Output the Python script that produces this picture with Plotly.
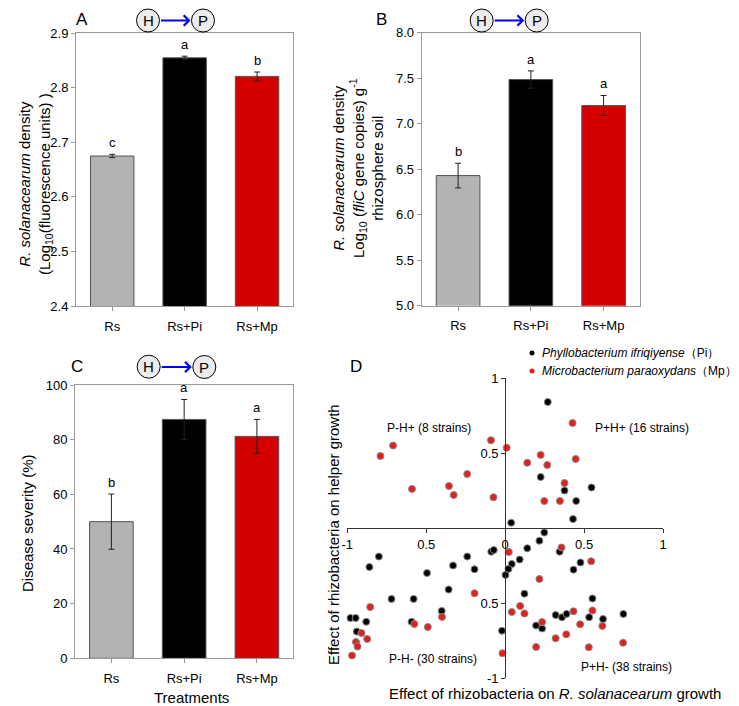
import plotly.graph_objects as go

# the page body adds an 8 px margin, so the figure is drawn 8 px in from the corner
OFF = 8
W, H = 739 - OFF, 706 - OFF

# ---- bar panels data ----
cats = ["Rs", "Rs+Pi", "Rs+Mp"]
bar_colors = ["#b3b3b3", "#000000", "#d40000"]

a_mean = [2.675, 2.855, 2.821]
a_err = [0.003, 0.003, 0.008]
a_sig = ["c", "a", "b"]

b_mean = [6.43, 7.485, 7.20]
b_err = [0.135, 0.095, 0.11]
b_sig = ["b", "a", "a"]

c_mean = [50.0, 87.4, 81.2]
c_err = [10.1, 7.3, 6.2]
c_sig = ["b", "a", "a"]

# ---- scatter panel data (effect on pathogen, effect on helper) ----
pi_x = [0.27, 0.225, 0.376, 0.547, 0.45, 0.43, 0.038,
        -0.80, -0.86, -0.495, -0.33, -0.24, -0.194, -0.088, -0.072, -0.358, -0.72,
        -0.58, -0.402, -0.593, -0.98, -0.947, -0.88, -0.94, -0.02,
        0.248, 0.217, 0.14, 0.345, 0.092, 0.042, 0.021, 0.002, 0.477, 0.433,
        0.122, 0.553, 0.32, 0.36, 0.389, 0.532, 0.62, 0.749, 0.196, 0.234]
pi_y = [0.84, 0.34, 0.25, 0.27, 0.18, 0.06, 0.035,
        -0.19, -0.26, -0.30, -0.25, -0.19, -0.275, -0.158, -0.147, -0.41, -0.473,
        -0.473, -0.553, -0.625, -0.60, -0.60, -0.625, -0.69, -0.685,
        -0.03, -0.085, -0.135, -0.158, -0.21, -0.24, -0.273, -0.313, -0.23, -0.278,
        -0.438, -0.47, -0.58, -0.595, -0.573, -0.595, -0.607, -0.573, -0.65, -0.67]

mp_x = [-0.79, -0.71, -0.59, -0.356, -0.326, -0.24, -0.09, -0.074,
        0.01, 0.427, 0.225, 0.14, 0.267, 0.447, 0.376, 0.248, 0.347,
        -0.855, -0.91, -0.945, -0.935, -0.874, -0.97, -0.575, -0.49, -0.40, -0.194, -0.017,
        0.023, 0.357, 0.545, 0.217, 0.042, 0.095, 0.122, 0.433, 0.553, 0.234,
        0.475, 0.616, 0.387, 0.32, 0.196, 0.53, 0.747]
mp_y = [0.48, 0.55, 0.26, 0.28, 0.22, 0.36, 0.585, 0.205,
        0.535, 0.70, 0.487, 0.435, 0.42, 0.46, 0.30, 0.18, 0.18,
        -0.527, -0.70, -0.76, -0.79, -0.74, -0.85, -0.64, -0.66, -0.593, -0.435, -0.835,
        -0.16, -0.13, -0.222, -0.34, -0.56, -0.52, -0.57, -0.555, -0.55, -0.627,
        -0.642, -0.653, -0.709, -0.735, -0.793, -0.795, -0.765]

quad_labels = ["P-H+ (8 strains)", "P+H+ (16 strains)", "P-H- (30 strains)", "P+H- (38 strains)"]
quad_x = [-0.48, 0.87, -0.46, 0.77]
quad_y = [0.67, 0.67, -0.875, -0.925]

legend_names = ["<i>Phyllobacterium ifriqiyense</i>（Pi）", "<i>Microbacterium paraoxydans</i>（Mp）"]
pi_color, mp_color = "black", "#e3201b"

FONT = "Liberation Sans, Arial, sans-serif"


# screen pixel -> paper fraction
def fx(p):
    return (p - OFF) / W


def fy(p):
    return 1 - (p - OFF) / H


def note(x, y, text, size, xanchor="center", **kw):
    fig.add_annotation(x=fx(x), y=fy(y), xref="paper", yref="paper", text=text,
                       showarrow=False, xanchor=xanchor, yanchor="middle",
                       font=dict(size=size, color="black"), **kw)


fig = go.Figure()

# pixel boxes of the plot areas: (left, right, top, bottom)
boxes = {
    "A": (76, 293.3, 33.3, 306),
    "B": (421.7, 640, 32.7, 305.7),
    "C": (75, 293.3, 385, 658.3),
    "D": (347.3, 663, 378, 678),
}

panels = [
    ("", a_mean, a_err, a_sig),
    ("2", b_mean, b_err, b_sig),
    ("3", c_mean, c_err, c_sig),
]
for s_, m, e, s in panels:
    fig.add_trace(go.Bar(
        x=cats, y=m, width=0.6,
        marker=dict(color=bar_colors, line=dict(color="#555555", width=1)),
        error_y=dict(type="data", array=e, color="#222222", thickness=1, width=3),
        xaxis="x" + s_, yaxis="y" + s_, showlegend=False))
    # significance letters
    for c, v, err, lab in zip(cats, m, e, s):
        fig.add_annotation(x=c, y=v + err, text=lab, showarrow=False,
                           xref="x" + s_, yref="y" + s_, yanchor="bottom", yshift=2,
                           font=dict(size=13, color="black"))

# scatter panel
fig.add_trace(go.Scatter(x=pi_x, y=pi_y, mode="markers", xaxis="x4", yaxis="y4",
                         marker=dict(size=7, color=pi_color, line=dict(color="#888", width=1)),
                         cliponaxis=False, showlegend=False))
fig.add_trace(go.Scatter(x=mp_x, y=mp_y, mode="markers", xaxis="x4", yaxis="y4",
                         marker=dict(size=7, color=mp_color, line=dict(color="#888", width=1)),
                         cliponaxis=False, showlegend=False))

for lab, qx, qy in zip(quad_labels, quad_x, quad_y):
    fig.add_annotation(x=qx, y=qy, xref="x4", yref="y4", text=lab, showarrow=False,
                       font=dict(size=12, color="black"))


def dom(key):
    l, r, t, b = boxes[key]
    return [fx(l), fx(r)], [fy(b), fy(t)]


box_ax = dict(showline=True, mirror=True, linecolor="#999999", linewidth=1,
              ticks="outside", ticklen=4, tickcolor="#999999", showgrid=False,
              zeroline=False, automargin=False, tickfont=dict(size=13, color="black"))
cross_ax = dict(showline=True, linecolor="#333", ticks="outside", ticklen=4, tickcolor="#333",
                showgrid=False, zeroline=False, automargin=False, range=[-1, 1],
                tickfont=dict(size=13, color="black"))

xa, ya = dom("A")
xb, yb = dom("B")
xc, yc = dom("C")
xd, yd = dom("D")

fig.update_layout(
    xaxis=dict(domain=xa, anchor="y", ticklabelstandoff=4, **box_ax),
    yaxis=dict(domain=ya, anchor="x", range=[2.4, 2.9], dtick=0.1, tickformat=".1f", **box_ax),
    xaxis2=dict(domain=xb, anchor="y2", ticklabelstandoff=4, **box_ax),
    yaxis2=dict(domain=yb, anchor="x2", range=[5, 8], dtick=0.5, tickformat=".1f", **box_ax),
    xaxis3=dict(domain=xc, anchor="y3", ticklabelstandoff=4, **box_ax),
    yaxis3=dict(domain=yc, anchor="x3", range=[0, 100], dtick=20, **box_ax),
    xaxis4=dict(domain=xd, anchor="free", position=(yd[0] + yd[1]) / 2,
                tickvals=[-1, -0.5, 0, 0.5, 1], ticktext=["-1", "0.5", "0", "0.5", "1"], **cross_ax),
    yaxis4=dict(domain=yd, anchor="free", position=(xd[0] + xd[1]) / 2,
                tickvals=[-1, -0.5, 0.5, 1], ticktext=["-1", "0.5", "0.5", "1"], **cross_ax),
    showlegend=False,
    width=W, height=H, margin=dict(l=0, r=0, t=0, b=0),
    plot_bgcolor="white", paper_bgcolor="white",
    font=dict(family=FONT, color="black"),
)

# axis titles
note(36, 184, "<i>R. solanacearum</i> density<br>(Log<sub>10</sub>(fluorescence units) )", 15, textangle=-90)
note(358, 168, "<i>R. solanacearum</i> density<br>Log<sub>10</sub> (<i>fliC</i> gene copies) g<sup>-1</sup><br>rhizosphere soil",
     15, textangle=-90)
note(27, 523, "Disease severity (%)", 15, textangle=-90)
note(191, 697, "Treatments", 15)
note(555, 693, "Effect of rhizobacteria on <i>R. solanacearum</i> growth", 15)
note(333, 535, "Effect of rhizobacteria on helper growth", 15, textangle=-90)

# legend of panel D, drawn by hand so it does not push the margins
for i, (name, col) in enumerate(zip(legend_names, [pi_color, mp_color])):
    ly = 353 + 18 * i
    fig.add_shape(type="circle", xref="paper", yref="paper",
                  x0=fx(529.5), x1=fx(534.5), y0=fy(ly + 2.5), y1=fy(ly - 2.5),
                  fillcolor=col, line=dict(width=0))
    note(540, ly, name, 12, xanchor="left")

# panel letters (top row kept just inside the page)
for lab, lx, ly in [("A", 82, 20), ("B", 381, 20), ("C", 77, 366), ("D", 356, 366)]:
    note(lx, ly, lab, 17)


# H -> P icon (helper promotes pathogen)
def add_icon(hx, hy, px_, py_):
    r = 11.5
    for cx, cy, t in [(hx, hy, "H"), (px_, py_, "P")]:
        fig.add_shape(type="circle", xref="paper", yref="paper",
                      x0=fx(cx - r), x1=fx(cx + r), y0=fy(cy + r), y1=fy(cy - r),
                      fillcolor="#ececec", line=dict(color="black", width=1))
        note(cx, cy, t, 15)
    fig.add_annotation(x=fx(px_ - r - 1), y=fy(py_), xref="paper", yref="paper",
                       ax=-(px_ - hx - 2 * r - 1), ay=0, text="", showarrow=True,
                       arrowhead=4, arrowsize=1, arrowwidth=2, arrowcolor="#0000ff")


add_icon(148, 20.5, 203, 20.5)
add_icon(481.7, 20.5, 536.7, 20.5)
add_icon(148.7, 366.7, 204.3, 367)

fig.write_html("out.html")
